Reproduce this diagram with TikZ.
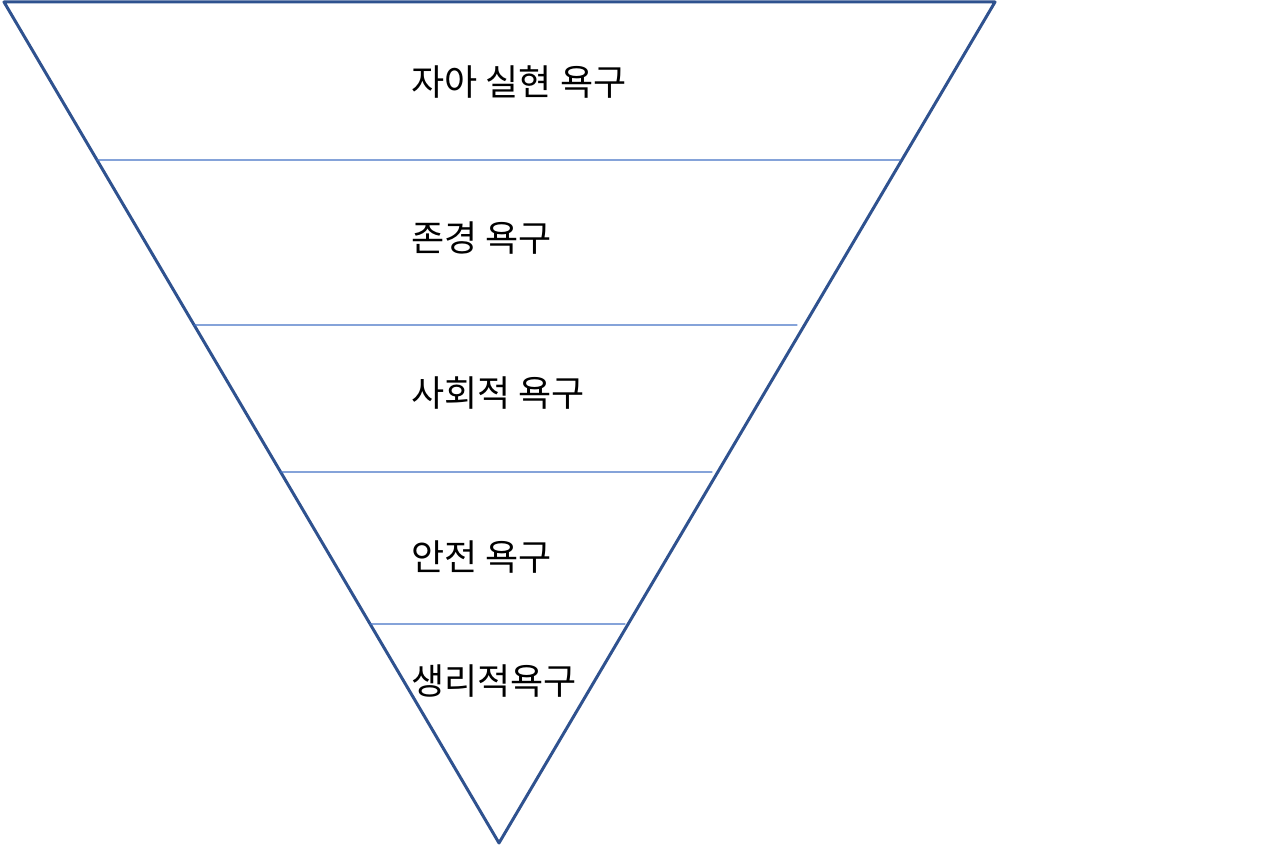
\documentclass[tikz,border=0pt]{standalone}
\usepackage{fontspec}
\newfontfamily\krfont{Noto Sans CJK KR}
\usetikzlibrary{calc}
\definecolor{needsblue}{RGB}{47,82,143}
\definecolor{needsline}{RGB}{68,114,196}

\begin{document}
\begin{tikzpicture}[x=0.02cm,y=-0.02cm,line cap=round,line join=round,
 level/.style={font=\krfont\fontsize{20.5}{22}\selectfont,anchor=west,inner sep=0pt}]
% Odwrócona piramida potrzeb
\useasboundingbox (0,0) rectangle (1280,847);
\coordinate (TL) at (4,2);
\coordinate (TR) at (995,2);
\coordinate (V) at (499,843);
\draw[needsblue,line width=1.7pt] (TL)--(TR)--(V)--cycle;
\foreach \y/\xr in {160/900,325/797,472/712,624/625}
 \draw[needsline,line width=.6pt] ($(TL)!{(\y-2)/841}!(V)$)--(\xr,\y);
\node[level] (self) at (411,82) {자아 실현 욕구};
\node[level] (esteem) at (411,238) {존경 욕구};
\node[level] (social) at (411,393) {사회적 욕구};
\node[level] (safety) at (411,557) {안전 욕구};
\node[level] (body) at (411,681) {생리적욕구};
\end{tikzpicture}
\end{document}
